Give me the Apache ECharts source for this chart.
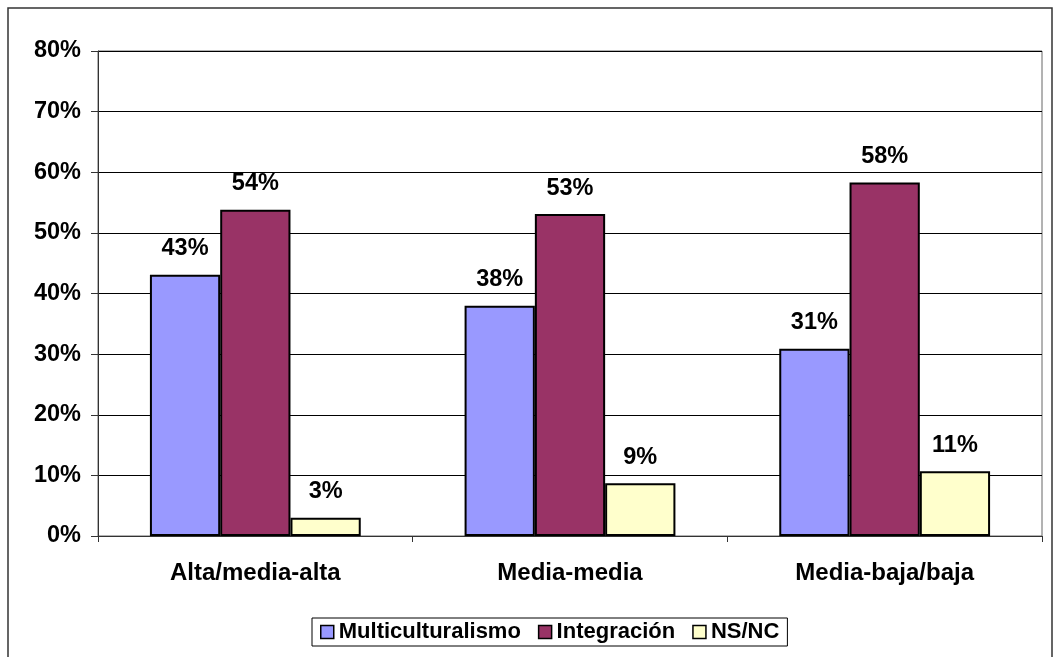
<!DOCTYPE html>
<html><head><meta charset="utf-8">
<script src="https://cdn.jsdelivr.net/npm/echarts@6/dist/echarts.min.js"></script>
<style>html,body{margin:0;padding:0;background:#fff}#c{width:1055px;height:657px}</style>
</head><body><div id="c"></div>
<script>
const categories = ['Alta/media-alta', 'Media-media', 'Media-baja/baja'];
const multiculturalismo = [43.1, 38.0, 30.9];
const integracion = [53.8, 53.1, 58.3];
const nsnc = [3.0, 8.7, 10.7];
const seriesNames = ['Multiculturalismo', 'Integración', 'NS/NC'];
const colors = ['#9999FF', '#993366', '#FFFFCC'];

const font = 'Liberation Sans, Arial, sans-serif';
const chart = echarts.init(document.getElementById('c'), null, {renderer: 'canvas'});
const mk = (name, data, color) => ({
  name, type: 'bar', data,
  barGap: '0%', barCategoryGap: '33%',
  itemStyle: {color, borderColor: '#000', borderWidth: 2},
  label: {show: true, position: 'top', distance: 14, fontFamily: font, fontWeight: 'bold', fontSize: 23.5, color: '#000',
    formatter: p => Math.round(p.value) + '%'}
});
chart.setOption({
  animation: false,
  graphic: [{type: 'rect', shape: {x: 8, y: 8, width: 1044, height: 660}, style: {fill: 'none', stroke: '#333', lineWidth: 1.5}, z: -1}],
  grid: {left: 98, right: 13, top: 51, bottom: 121, show: true, borderColor: '#666', borderWidth: 1},
  legend: {
    bottom: 11, left: 312, itemWidth: 13, itemHeight: 13, itemGap: 17, icon: 'rect',
    padding: [3, 8], borderColor: '#000', borderWidth: 1,
    textStyle: {fontFamily: font, fontWeight: 'bold', fontSize: 22, color: '#000', padding: [0, 0, 0, 0]},
    itemStyle: {borderColor: '#000', borderWidth: 1.5},
    data: seriesNames
  },
  xAxis: {type: 'category', data: categories,
    axisLine: {lineStyle: {color: '#333', width: 1}},
    axisTick: {show: true, length: 6, lineStyle: {color: '#333'}},
    axisLabel: {fontFamily: font, fontWeight: 'bold', fontSize: 24, color: '#000', margin: 25}},
  yAxis: {type: 'value', min: 0, max: 80, interval: 10,
    axisLine: {show: true, lineStyle: {color: '#333', width: 1}},
    axisTick: {show: true, length: 7, lineStyle: {color: '#333'}},
    splitLine: {lineStyle: {color: '#000', width: 1}},
    axisLabel: {fontFamily: font, fontWeight: 'bold', fontSize: 23.5, color: '#000', margin: 17, formatter: '{value}%'}},
  series: [mk(seriesNames[0], multiculturalismo, colors[0]), mk(seriesNames[1], integracion, colors[1]), mk(seriesNames[2], nsnc, colors[2])]
});
</script></body></html>
